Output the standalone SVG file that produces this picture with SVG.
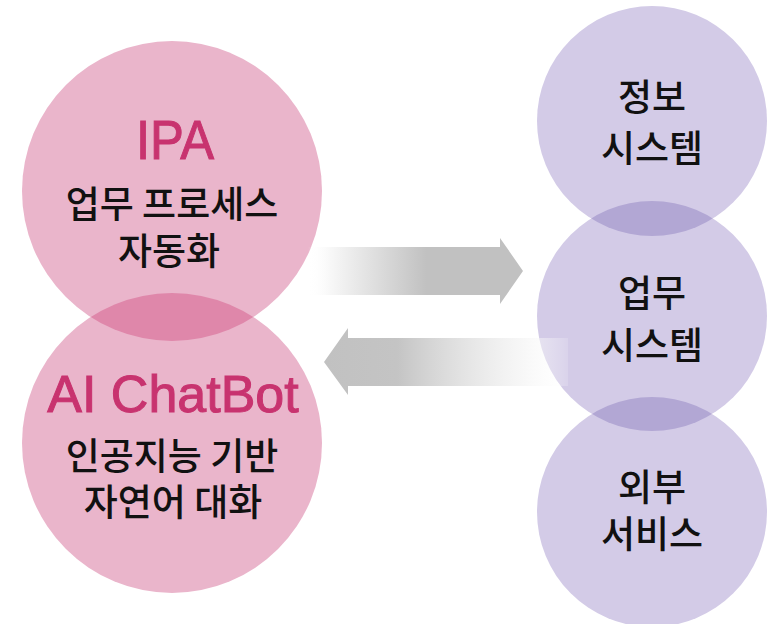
<svg xmlns="http://www.w3.org/2000/svg" width="769" height="624" viewBox="0 0 769 624">
  <defs>
    <style>
      .pink { fill: #EAB5CB; }
      .pinkov { fill: #DF87AA; }
      .purple { fill: #D3CBE7; }
      .purpleov { fill: #B2A7D4; }
      .title { font-family: "Liberation Sans", Arial, sans-serif; fill: #C8336F; stroke: #C8336F; stroke-width: 1; text-anchor: middle; }
      .kr { font-family: "Noto Sans CJK KR", "Noto Sans", sans-serif; font-size: 37px; font-weight: 500; fill: #111111; text-anchor: middle; }
    </style>
    <linearGradient id="gRight" gradientUnits="userSpaceOnUse" x1="308" y1="0" x2="523" y2="0">
      <stop offset="0" stop-color="#FFFFFF" stop-opacity="0"/>
      <stop offset="0.1" stop-color="#F8F8F8"/>
      <stop offset="0.55" stop-color="#C1C1C1"/>
      <stop offset="1" stop-color="#C1C1C1"/>
    </linearGradient>
    <linearGradient id="gLeft" gradientUnits="userSpaceOnUse" x1="324" y1="0" x2="568" y2="0">
      <stop offset="0" stop-color="#C1C1C1"/>
      <stop offset="0.3" stop-color="#C4C4C4"/>
      <stop offset="0.85" stop-color="#F6F6F6" stop-opacity="0.6"/>
      <stop offset="1" stop-color="#FFFFFF" stop-opacity="0.15"/>
    </linearGradient>
    <clipPath id="clipIPA"><circle cx="172" cy="191" r="150"/></clipPath>
    <clipPath id="clipP1"><circle cx="652" cy="121" r="115"/></clipPath>
    <clipPath id="clipP2"><circle cx="652" cy="316" r="115"/></clipPath>
  </defs>

  <g id="node-ipa">
    <circle class="pink" cx="172" cy="191" r="150"/>
    <text class="title" x="175" y="159" font-size="56" textLength="78" lengthAdjust="spacingAndGlyphs">IPA</text>
    <text class="kr" x="172" y="218">업무 프로세스</text>
    <text class="kr" x="169" y="265">자동화</text>
  </g>

  <g id="node-chatbot">
    <circle class="pink" cx="172" cy="443" r="150"/>
    <circle class="pinkov" cx="172" cy="443" r="150" clip-path="url(#clipIPA)"/>
    <text class="title" x="173" y="412" font-size="52">AI ChatBot</text>
    <text class="kr" x="172" y="470">인공지능 기반</text>
    <text class="kr" x="173" y="516">자연어 대화</text>
  </g>

  <g id="node-info-system">
    <circle class="purple" cx="652" cy="121" r="115"/>
    <text class="kr" x="652" y="111">정보</text>
    <text class="kr" x="652" y="162">시스템</text>
  </g>

  <g id="node-work-system">
    <circle class="purple" cx="652" cy="316" r="115"/>
    <circle class="purpleov" cx="652" cy="316" r="115" clip-path="url(#clipP1)"/>
    <text class="kr" x="652" y="307">업무</text>
    <text class="kr" x="652" y="359">시스템</text>
  </g>

  <g id="node-external-service">
    <circle class="purple" cx="652" cy="512" r="115"/>
    <circle class="purpleov" cx="652" cy="512" r="115" clip-path="url(#clipP2)"/>
    <text class="kr" x="652" y="501">외부</text>
    <text class="kr" x="652" y="548">서비스</text>
  </g>

  <g id="connectors">
    <polygon fill="url(#gRight)" points="308,247 500,247 500,238 523,271 500,304 500,295 308,295"/>
    <polygon fill="url(#gLeft)" points="568,338 348,338 348,328 324,362 348,395 348,386 568,386"/>
  </g>
</svg>
